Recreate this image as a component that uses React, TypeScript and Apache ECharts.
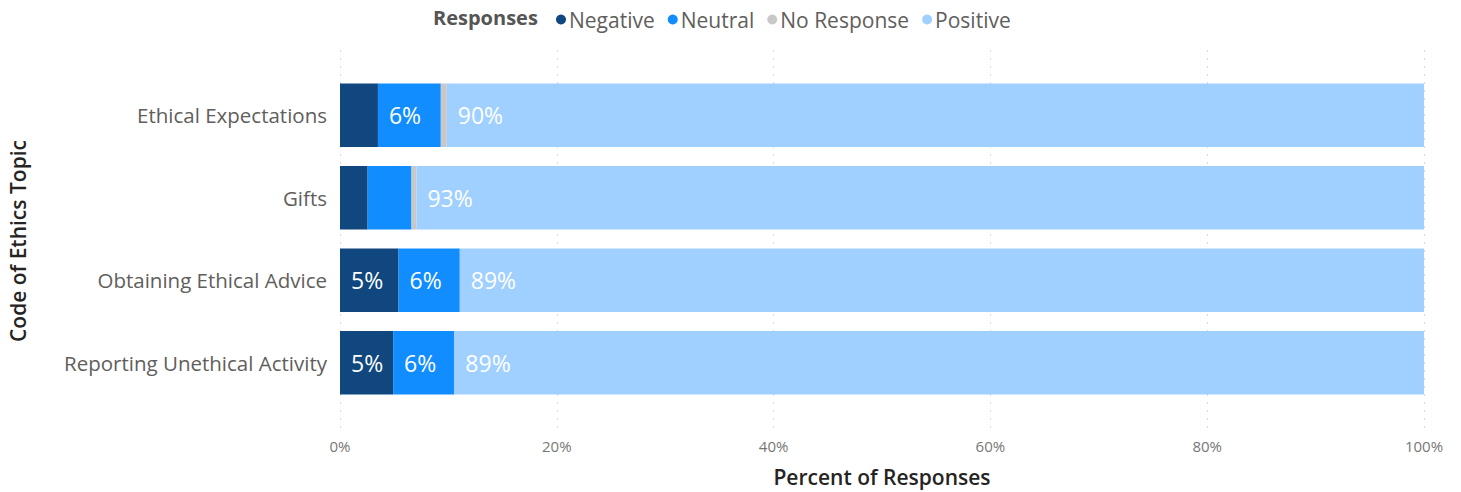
import React, { useEffect, useRef } from "react";
import * as echarts from "echarts";

const categories = [
  "Ethical Expectations",
  "Gifts",
  "Obtaining Ethical Advice",
  "Reporting Unethical Activity",
];
const seriesNames = ["Negative", "Neutral", "No Response", "Positive"];
const negative = [3.5, 2.55, 5.4, 4.9];
const neutral = [5.8, 4.05, 5.65, 5.65];
const noResponse = [0.55, 0.45, 0, 0];
const positive = [90.15, 92.95, 88.95, 89.45];
const colors = ["#0F477E", "#118DFF", "#C8C8C8", "#A0D0FF"];
const xTicks = [0, 20, 40, 60, 80, 100];

const FONT = "'Segoe UI', 'Open Sans', sans-serif";
const LABEL_MIN = 4.5;

export default function App() {
  const ref = useRef<HTMLDivElement>(null);
  useEffect(() => {
    if (!ref.current) return;
    const chart = echarts.init(ref.current, null, { renderer: "svg" });
    const values = [negative, neutral, noResponse, positive];
    const series = seriesNames.map((name, i) => ({
      name,
      type: "bar",
      stack: "total",
      xAxisIndex: 0,
      yAxisIndex: 0,
      barCategoryGap: "23%",
      itemStyle: { color: colors[i] },
      label: {
        show: true,
        position: "insideLeft",
        distance: 11,
        color: "#FFFFFF",
        fontFamily: FONT,
        fontSize: 23,
        formatter: (p: any) =>
          p.value >= LABEL_MIN ? Math.round(p.value) + "%" : "",
      },
      data: values[i],
    }));
    chart.setOption({
      animation: false,
      textStyle: { fontFamily: FONT },
      legend: {
        data: seriesNames,
        left: 551,
        top: 4,
        icon: "circle",
        itemWidth: 10,
        itemHeight: 10,
        itemGap: 13,
        textStyle: { color: "#605E5C", fontSize: 21, fontFamily: FONT, padding: [0, 0, 0, -2] },
      },
      graphic: [
        {
          type: "text",
          left: 433,
          top: 7,
          style: {
            text: "Responses",
            fill: "#555555",
            font: `bold 20px ${FONT}`,
          },
        },
        {
          type: "text",
          x: 18,
          y: 241,
          rotation: Math.PI / 2,
          style: {
            text: "Code of Ethics Topic",
            fill: "#252423",
            font: `600 21px ${FONT}`,
            align: "center",
            verticalAlign: "middle",
          },
        },
        {
          type: "text",
          x: 882,
          y: 477,
          style: {
            text: "Percent of Responses",
            fill: "#252423",
            font: `600 21px ${FONT}`,
            align: "center",
            verticalAlign: "middle",
          },
        },
      ],
      grid: [
        { left: 340, top: 74, width: 1084, height: 330, containLabel: false },
        { left: 340, top: 50, width: 1084, height: 380, containLabel: false },
      ],
      xAxis: [
        {
          gridIndex: 0,
          type: "value",
          min: 0,
          max: 100,
          show: false,
          splitLine: { show: false },
        },
        {
          gridIndex: 1,
          type: "value",
          min: 0,
          max: 100,
          interval: 20,
          axisLine: { show: false },
          axisTick: { show: false },
          splitLine: {
            show: true,
            lineStyle: { color: "#D9D9D9", type: [2, 6], width: 1 },
          },
          axisLabel: {
            color: "#777777",
            fontSize: 15,
            margin: 8,
            fontFamily: FONT,
            formatter: (v: number) => (xTicks.includes(v) ? v + "%" : ""),
          },
        },
      ],
      yAxis: [
        {
          gridIndex: 0,
          type: "category",
          data: categories,
          inverse: true,
          axisLine: { show: false },
          axisTick: { show: false },
          axisLabel: {
            color: "#605E5C",
            fontSize: 20.5,
            margin: 13,
            fontFamily: FONT,
          },
        },
        {
          gridIndex: 1,
          type: "value",
          show: false,
          splitLine: { show: false },
        },
      ],
      series,
    });
    return () => chart.dispose();
  }, []);
  return (
    <div
      ref={ref}
      style={{ position: "absolute", left: 0, top: 0, width: 1461, height: 492 }}
    />
  );
}
